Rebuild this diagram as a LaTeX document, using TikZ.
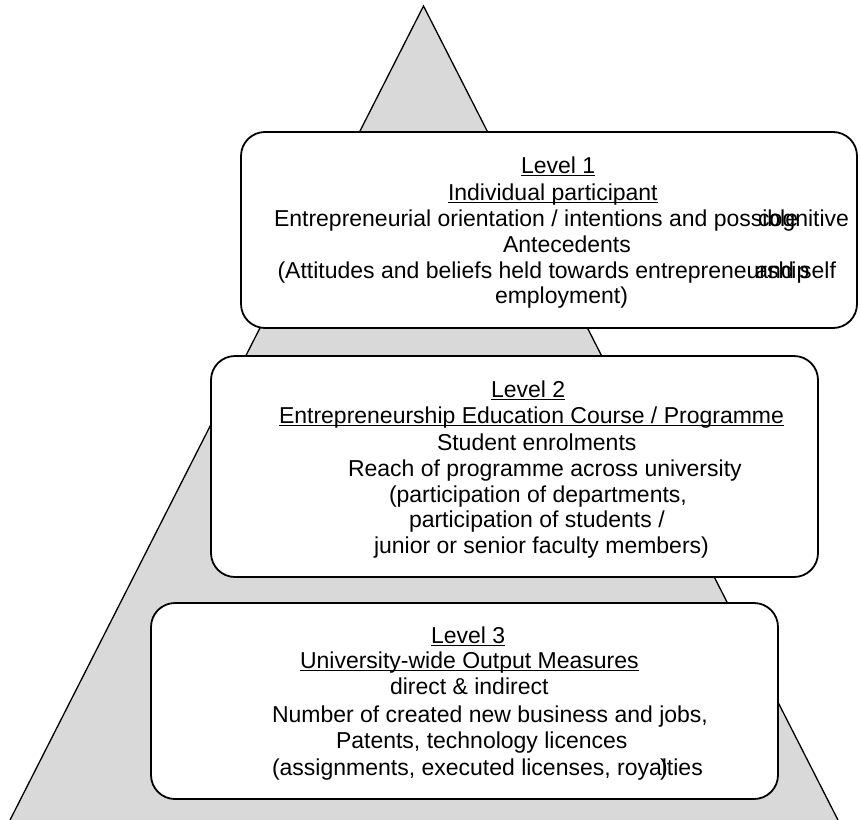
\documentclass[tikz,border=0pt]{standalone}
\usepackage{fontspec}
\setmainfont{Liberation Sans}
\newcommand\ulword[1]{\setbox0\hbox{#1}\rlap{\rule[-2.6pt]{\wd0}{1.1pt}}\box0}
\tikzset{
  pyramid/.style={draw=black, line width=1.3pt, fill=gray!30, line join=miter},
  levelbox/.style={draw=black, line width=1.8pt, fill=white, rounded corners=24pt},
  txt/.style={anchor=base west, inner sep=0pt, outer sep=0pt,
              font=\fontsize{23}{26}\selectfont},
  txte/.style={txt, anchor=base east},
}
\begin{document}
\begin{tikzpicture}[x=1pt, y=-1pt]
\useasboundingbox (0,0) rectangle (861,819);

% pyramid behind the three level boxes
\coordinate (apex) at (423.5,6);
\coordinate (baseL) at (8,824);
\coordinate (baseR) at (840,824);
\draw[pyramid] (apex) -- (baseR) -- (baseL) -- cycle;

% level boxes
\draw[levelbox] (241,132) rectangle (857,328);
\draw[levelbox] (211,356) rectangle (818,577);
\draw[levelbox] (151,603) rectangle (778,799);

% Level 1
\node[txt] (l1a) at (521,173) {\ulword{Level 1}};
\node[txt] (l1b) at (448,200) {\ulword{Individual participant}};
\node[txt] (l1c) at (274,226) {Entrepreneurial orientation / intentions and possible};
\node[txte] (l1d) at (849,226) {cognitive};
\node[txt] (l1e) at (503,252) {Antecedents};
\node[txt] (l1f) at (277.5,278) {(Attitudes and beliefs held towards entrepreneurship};
\node[txte] (l1g) at (836,278) {and self};
\node[txt] (l1h) at (495,303) {employment)};

% Level 2
\node[txt] (l2a) at (491,397) {\ulword{Level 2}};
\node[txt] (l2b) at (279,423) {\ulword{Entrepreneurship Education Course / Programme}};
\node[txt] (l2c) at (437,450) {Student enrolments};
\node[txt] (l2d) at (348,476) {Reach of programme across university};
\node[txt] (l2e) at (389,502) {(participation of departments,};
\node[txt] (l2f) at (409,527) {participation of students /};
\node[txt] (l2g) at (374,553) {junior or senior faculty members)};

% Level 3
\node[txt] (l3a) at (431,643) {\ulword{Level 3}};
\node[txt] (l3b) at (300,668) {\ulword{University-wide Output Measures}};
\node[txt] (l3c) at (390,694) {direct \& indirect};
\node[txt] (l3d) at (272,722) {Number of created new business and jobs,};
\node[txt] (l3e) at (336,748) {Patents, technology licences};
\node[txt] (l3f) at (272,775) {(assignments, executed licenses, royalties};
\node[txt, anchor=base] (l3g) at (664,775) {)};
\end{tikzpicture}
\end{document}
